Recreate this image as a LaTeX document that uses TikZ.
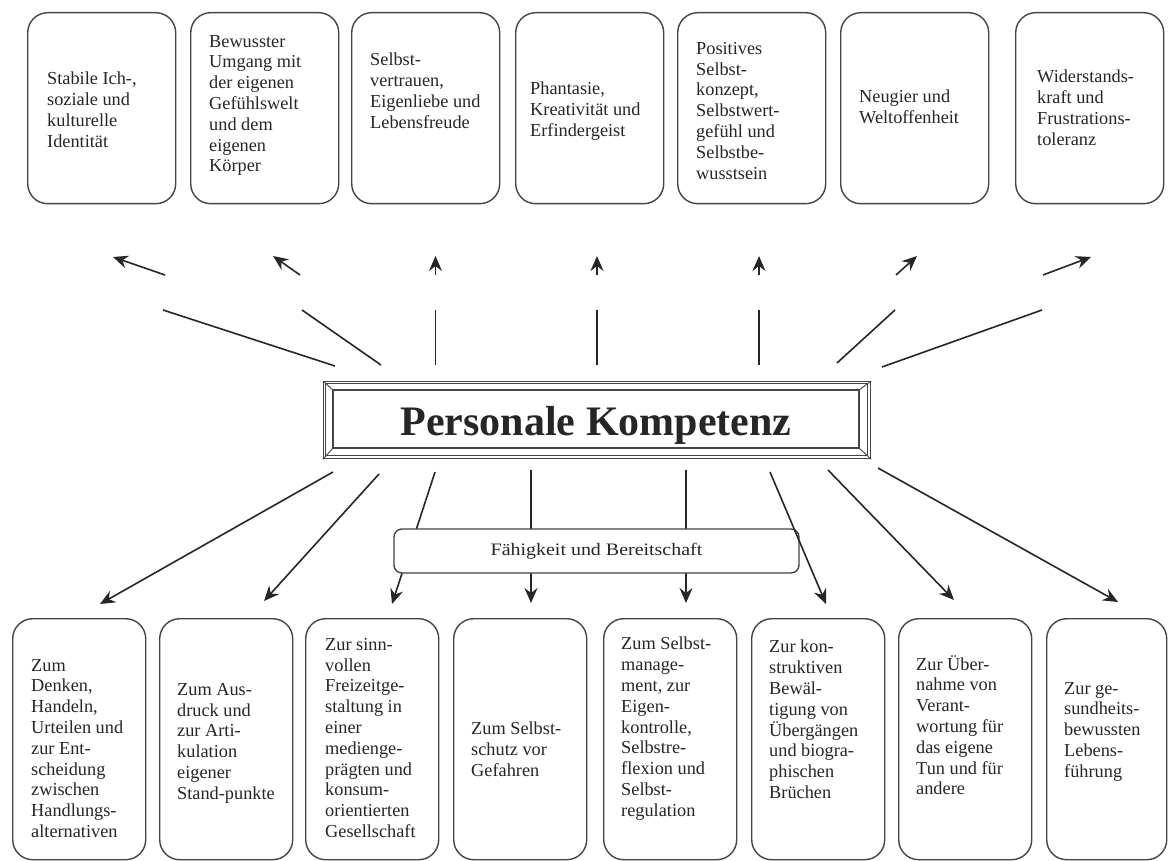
\documentclass[tikz,border=0pt]{standalone}
\usepackage{fontspec}
\setmainfont{Liberation Serif}
\usetikzlibrary{arrows.meta}
\definecolor{ink}{HTML}{262626}
\definecolor{edge}{HTML}{444444}
\begin{document}
\begin{tikzpicture}[x=1pt,y=-1pt,
  box/.style={draw=edge, line width=1.4pt, rounded corners=20pt, fill=white, anchor=north west, inner sep=0pt},
  topbox/.style={box, minimum width=148pt, minimum height=191pt},
  botbox/.style={box, minimum width=133pt, minimum height=241pt},
  txt/.style={anchor=north west, inner sep=0pt, align=left, text=ink, font=\fontsize{18.3}{20.8}\selectfont},
  conn/.style={draw=ink, line width=1.6pt},
  arr/.style={conn, -{Stealth[length=15pt,width=13pt,inset=5pt]}},
]
\useasboundingbox (0,0) rectangle (1172,861);

% ---------- top boxes ----------
\node[topbox] (t1) at (27,12) {};
\node[topbox] (t2) at (190,12) {};
\node[topbox] (t3) at (351,12) {};
\node[topbox] (t4) at (515,12) {};
\node[topbox] (t5) at (677,12) {};
\node[topbox] (t6) at (840,12) {};
\node[topbox] (t7) at (1015,12) {};

\node[txt] (tt1) at (47,72) {Stabile Ich-,\\soziale und\\kulturelle\\Identität};
\node[txt] (tt2) at (209,35) {Bewusster\\Umgang mit\\der eigenen\\Gefühlswelt\\und dem\\eigenen\\Körper};
\node[txt] (tt3) at (370,53) {Selbst-\\vertrauen,\\Eigenliebe und\\Lebensfreude};
\node[txt] (tt4) at (530,82) {Phantasie,\\Kreativität und\\Erfindergeist};
\node[txt] (tt5) at (696,42) {Positives\\Selbst-\\konzept,\\Selbstwert-\\gefühl und\\Selbstbe-\\wusstsein};
\node[txt] (tt6) at (859,90) {Neugier und\\Weltoffenheit};
\node[txt] (tt7) at (1037,70) {Widerstands-\\kraft und\\Frustrations-\\toleranz};

% ---------- bottom boxes ----------
\node[botbox] (b1) at (12,618) {};
\node[botbox] (b2) at (159,618) {};
\node[botbox] (b3) at (305,618) {};
\node[botbox] (b4) at (453,618) {};
\node[botbox] (b5) at (603,618) {};
\node[botbox] (b6) at (751,618) {};
\node[botbox] (b7) at (898,618) {};
\node[botbox, minimum width=120pt] (b8) at (1046,618) {};

\node[txt] (bt1) at (31,659) {Zum\\Denken,\\Handeln,\\Urteilen und\\zur Ent-\\scheidung\\zwischen\\Handlungs-\\alternativen};
\node[txt] (bt2) at (177,683) {Zum Aus-\\druck und\\zur Arti-\\kulation\\eigener\\Stand-punkte};
\node[txt] (bt3) at (325,638) {Zur sinn-\\vollen\\Freizeitge-\\staltung in\\einer\\medienge-\\prägten und\\konsum-\\orientierten\\Gesellschaft};
\node[txt] (bt4) at (471,722) {Zum Selbst-\\schutz vor\\Gefahren};
\node[txt] (bt5) at (621,637) {Zum Selbst-\\manage-\\ment, zur\\Eigen-\\kontrolle,\\Selbstre-\\flexion und\\Selbst-\\regulation};
\node[txt] (bt6) at (769,640) {Zur kon-\\struktiven\\Bewäl-\\tigung von\\Übergängen\\und biogra-\\phischen\\Brüchen};
\node[txt] (bt7) at (916,655) {Zur Über-\\nahme von\\Verant-\\wortung für\\das eigene\\Tun und für\\andere};
\node[txt] (bt8) at (1064,682) {Zur ge-\\sundheits-\\bewussten\\Lebens-\\führung};

% ---------- connector end points ----------
\coordinate (a1s) at (335,366); \coordinate (a1m) at (163,310); \coordinate (a1n) at (165,275); \coordinate (a1t) at (113,257);
\coordinate (a2s) at (381,365); \coordinate (a2m) at (302,310); \coordinate (a2n) at (300,275); \coordinate (a2t) at (273,256);
\coordinate (a3s) at (435.5,365); \coordinate (a3m) at (435.5,310); \coordinate (a3n) at (435.5,275); \coordinate (a3t) at (435.5,256);
\coordinate (a4s) at (597,365); \coordinate (a4m) at (597,310); \coordinate (a4n) at (597,275); \coordinate (a4t) at (597,256);
\coordinate (a5s) at (759,365); \coordinate (a5m) at (759,310); \coordinate (a5n) at (759,275); \coordinate (a5t) at (759,256);
\coordinate (a6s) at (837,363); \coordinate (a6m) at (895,310); \coordinate (a6n) at (896,275); \coordinate (a6t) at (917,256);
\coordinate (a7s) at (882,367); \coordinate (a7m) at (1042,310); \coordinate (a7n) at (1043,275); \coordinate (a7t) at (1091,257);

\coordinate (c1s) at (333,472); \coordinate (c1t) at (100,604);
\coordinate (c2s) at (379,474); \coordinate (c2t) at (264,601);
\coordinate (c3s) at (435,472); \coordinate (c3t) at (392,604);
\coordinate (c4s) at (531,470); \coordinate (c4t) at (531,603);
\coordinate (c5s) at (686,470); \coordinate (c5t) at (686,603);
\coordinate (c6s) at (770,472); \coordinate (c6t) at (826,604);
\coordinate (c7s) at (828,470); \coordinate (c7t) at (954,600);
\coordinate (c8s) at (878,468); \coordinate (c8t) at (1118,602);

% upper connectors (interrupted)
\foreach \i in {1,...,7}{
  \draw[conn] (a\i s) -- (a\i m);
  \draw[arr] (a\i n) -- (a\i t);
}

% lower connectors (some pass behind the middle box)
\foreach \i in {1,2,3,4,5,7,8}{
  \draw[arr] (c\i s) -- (c\i t);
}

% ---------- Fähigkeit und Bereitschaft ----------
\node[draw=edge, line width=1.4pt, rounded corners=8pt, fill=white, minimum width=405pt, minimum height=44pt, inner sep=0pt, text=ink,
      font=\fontsize{17.5}{20}\selectfont] (fb) at (596.5,551) {\scalebox{1.14}[1]{Fähigkeit und Bereitschaft}};

\draw[arr] (c6s) -- (c6t);

% ---------- central frame ----------
\node[draw=edge, line width=1.3pt, fill=white, anchor=north west, inner sep=0pt, minimum width=547pt, minimum height=77pt] (pk) at (323,381) {};
\coordinate (pin1) at (333,390);
\coordinate (pin2) at (859,390);
\coordinate (pin3) at (859,448);
\coordinate (pin4) at (333,448);
\draw[edge, line width=0.7pt] (325.8,383.8) rectangle (867.2,455.2);
\draw[edge, line width=1.2pt] (pin1) -- (pin2) -- (pin3) -- (pin4) -- cycle;
\draw[edge, line width=0.9pt] (pk.north west) -- (pin1) (pk.north east) -- (pin2) (pk.south east) -- (pin3) (pk.south west) -- (pin4);
\node[anchor=base, inner sep=0pt, text=ink, font=\fontsize{42}{48}\selectfont\bfseries] (title) at (596,435) {Personale Kompetenz};
\end{tikzpicture}
\end{document}
